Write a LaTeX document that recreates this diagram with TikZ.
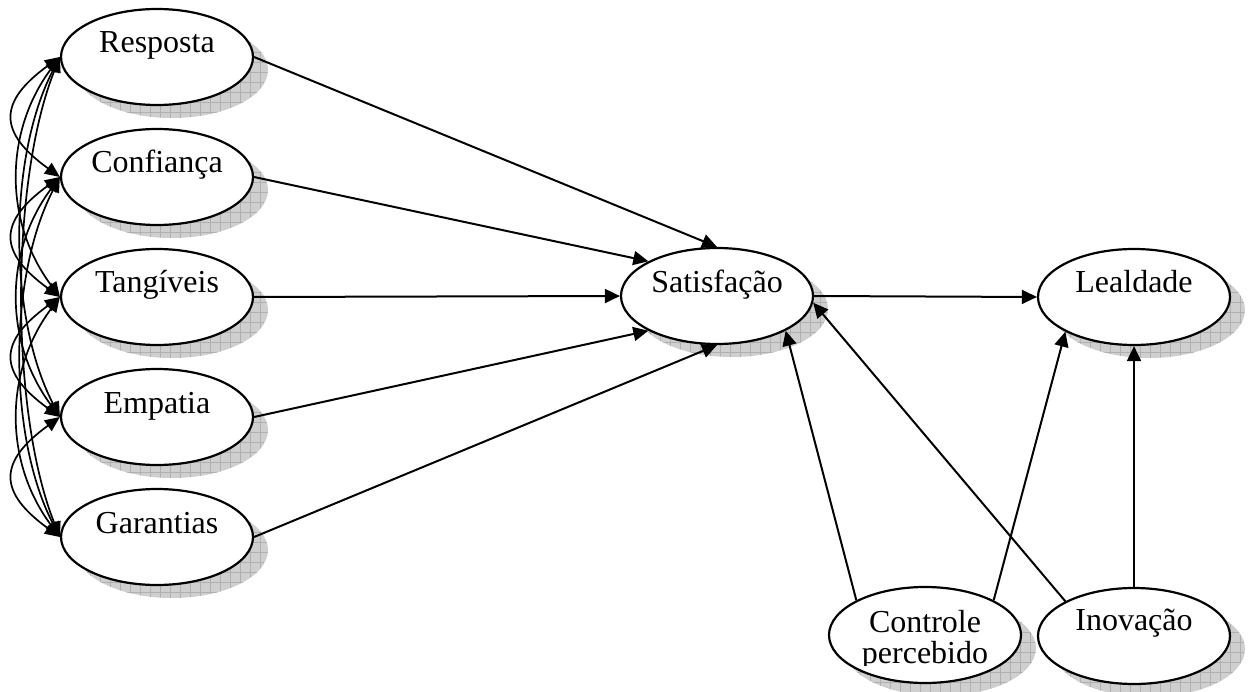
\documentclass[tikz,border=0pt]{standalone}
\usepackage{fontspec}
\setmainfont{Liberation Serif}
\usetikzlibrary{arrows.meta,patterns.meta,shapes.geometric,calc}

\tikzset{
  oval/.style={ellipse, draw, line width=2.2pt, fill=white,
    minimum width=192pt, minimum height=96pt, inner sep=0pt},
  lbl/.style={anchor=base, inner sep=0pt, font=\fontsize{32pt}{36pt}\selectfont},
  shadowbase/.style={fill=gray!38},
  shadowgrid/.style={pattern={Hatch[angle=0,distance=10pt,line width=0.8pt]},
    pattern color=gray!62},
  link/.style={line width=2pt, -{Triangle[length=15pt,width=14pt]}},
  corr/.style={line width=1.7pt,
    {Triangle[length=15pt,width=13pt]}-{Triangle[length=15pt,width=13pt]}}
}

\begin{document}
\begin{tikzpicture}[x=1pt,y=-1pt]
\useasboundingbox (0,0) rectangle (1255,692);

% centres of the constructs
\coordinate (cRes) at (157,57);
\coordinate (cCon) at (157,177);
\coordinate (cTan) at (157,297);
\coordinate (cEmp) at (157,417);
\coordinate (cGar) at (157,537);
\coordinate (cSat) at (717,296);
\coordinate (cLea) at (1134,297);
\coordinate (cCtl) at (925,635);
\coordinate (cIno) at (1134,636);

% shaded drop shadows
\foreach \c in {cRes,cCon,cTan,cEmp,cGar,cSat,cLea,cCtl,cIno}{
  \fill[shadowbase] ($(\c)+(15,13)$) ellipse [x radius=96pt, y radius=48pt];
  \fill[shadowgrid] ($(\c)+(15,13)$) ellipse [x radius=96pt, y radius=48pt];
}

% constructs
\node[oval] (Resposta)  at (cRes) {};
\node[oval] (Confianca) at (cCon) {};
\node[oval] (Tangiveis) at (cTan) {};
\node[oval] (Empatia)   at (cEmp) {};
\node[oval] (Garantias) at (cGar) {};
\node[oval] (Satisfacao) at (cSat) {};
\node[oval] (Lealdade)  at (cLea) {};
\node[oval] (Controle)  at (cCtl) {};
\node[oval] (Inovacao)  at (cIno) {};

% correlations among the service-quality dimensions
\foreach \a/\b/\dx/\dy in {
    Resposta/Confianca/62/45, Resposta/Tangiveis/56/75,
    Resposta/Empatia/52/100, Resposta/Garantias/50/125,
    Confianca/Tangiveis/62/45, Confianca/Empatia/56/75,
    Confianca/Garantias/52/100,
    Tangiveis/Empatia/62/45, Tangiveis/Garantias/56/75,
    Empatia/Garantias/62/45}{
  \draw[corr] (\a.west) .. controls +(-\dx,\dy) and +(-\dx,-\dy) .. (\b.west);
}

% structural paths
\draw[link] (Resposta.east)  -- (Satisfacao.north);
\draw[link] (Confianca.east) -- (Satisfacao.north west);
\draw[link] (Tangiveis.east) -- (Satisfacao.west);
\draw[link] (Empatia.east)   -- (Satisfacao.south west);
\draw[link] (Garantias.east) -- (Satisfacao.south);
\draw[link] (Satisfacao.east) -- (Lealdade.west);
\draw[link] (Controle.north west) -- (Satisfacao.south east);
\draw[link] (Controle.north east) -- (Lealdade.south west);
\draw[link] (Inovacao.north west) -- (Satisfacao.-4);
\draw[link] (Inovacao.north) -- (Lealdade.south);

% labels
\node[lbl] (Resposta-t)   at ($(cRes)+(0,-4)$) {Resposta};
\node[lbl] (Confianca-t)  at ($(cCon)+(0,-4)$) {Confiança};
\node[lbl] (Tangiveis-t)  at ($(cTan)+(0,-4)$) {Tangíveis};
\node[lbl] (Empatia-t)    at ($(cEmp)+(0,-4)$) {Empatia};
\node[lbl] (Garantias-t)  at ($(cGar)+(0,-4)$) {Garantias};
\node[lbl] (Satisfacao-t) at ($(cSat)+(0,-3)$) {Satisfação};
\node[lbl] (Lealdade-t)   at ($(cLea)+(0,-4)$) {Lealdade};
\node[lbl] (Inovacao-t)   at ($(cIno)+(0,-6)$) {Inovação};
\begin{scope}
  \clip (820,570) rectangle (1030,665);
  \node[lbl] (Controle-t1) at ($(cCtl)+(0,-3)$) {Controle};
  \node[lbl] (Controle-t2) at ($(cCtl)+(0,28)$) {percebido};
\end{scope}
\end{tikzpicture}
\end{document}
